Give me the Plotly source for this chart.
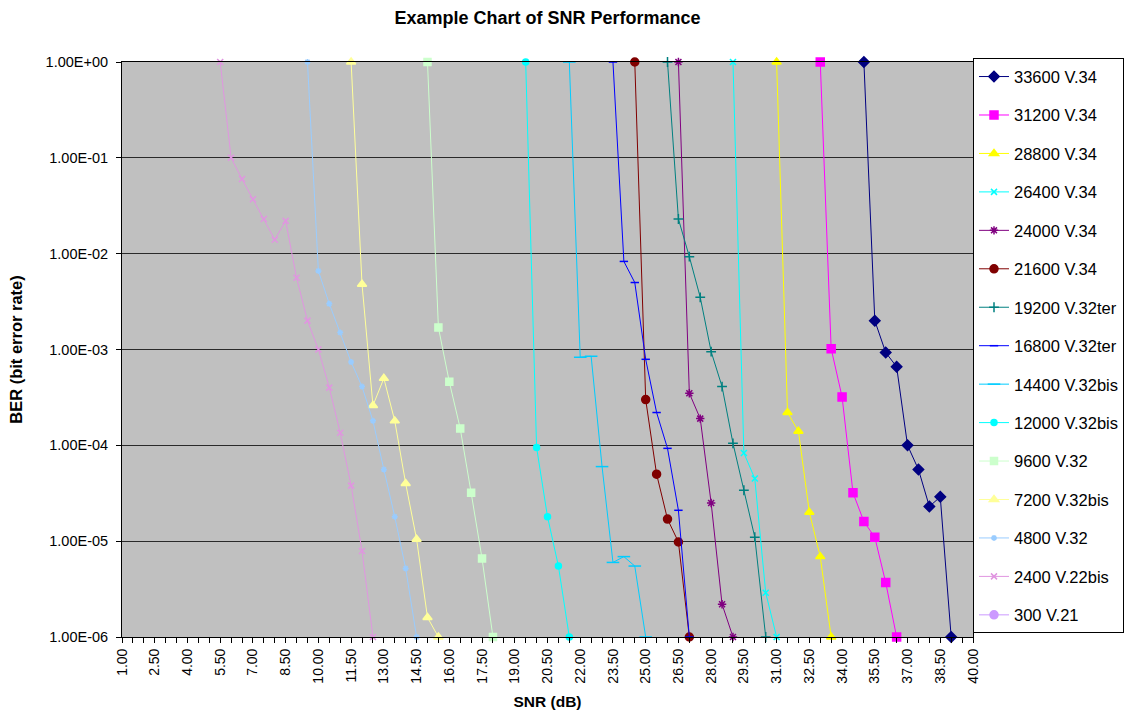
import plotly.graph_objects as go

# ---------------- data ----------------
series_names = ["33600 V.34", "31200 V.34", "28800 V.34", "26400 V.34", "24000 V.34",
                "21600 V.34", "19200 V.32ter", "16800 V.32ter", "14400 V.32bis",
                "12000 V.32bis", "9600 V.32", "7200 V.32bis", "4800 V.32",
                "2400 V.22bis", "300 V.21"]

snr_33600 = [35.0, 35.5, 36.0, 36.5, 37.0, 37.5, 38.0, 38.5, 39.0]
ber_33600 = [1.0, 2.0e-3, 9.3e-4, 6.6e-4, 1.0e-4, 5.6e-5, 2.3e-5, 2.9e-5, 1.0e-6]

snr_31200 = [33.0, 33.5, 34.0, 34.5, 35.0, 35.5, 36.0, 36.5]
ber_31200 = [1.0, 1.02e-3, 3.2e-4, 3.2e-5, 1.6e-5, 1.1e-5, 3.7e-6, 1.0e-6]

snr_28800 = [31.0, 31.5, 32.0, 32.5, 33.0, 33.5]
ber_28800 = [1.0, 2.2e-4, 1.4e-4, 2.0e-5, 6.9e-6, 1.0e-6]

snr_26400 = [29.0, 29.5, 30.0, 30.5, 31.0]
ber_26400 = [1.0, 8.3e-5, 4.5e-5, 2.9e-6, 1.0e-6]

snr_24000 = [26.5, 27.0, 27.5, 28.0, 28.5, 29.0]
ber_24000 = [1.0, 3.5e-4, 1.9e-4, 2.5e-5, 2.2e-6, 1.0e-6]

snr_21600 = [24.5, 25.0, 25.5, 26.0, 26.5, 27.0]
ber_21600 = [1.0, 3.0e-4, 5.0e-5, 1.7e-5, 9.8e-6, 1.0e-6]

snr_19200 = [26.0, 26.5, 27.0, 27.5, 28.0, 28.5, 29.0, 29.5, 30.0, 30.5]
ber_19200 = [1.0, 2.3e-2, 9.3e-3, 3.5e-3, 9.5e-4, 4.1e-4, 1.05e-4, 3.4e-5, 1.1e-5, 1.0e-6]

snr_16800 = [23.5, 24.0, 24.5, 25.0, 25.5, 26.0, 26.5, 27.0]
ber_16800 = [1.0, 8.3e-3, 5.0e-3, 7.9e-4, 2.2e-4, 9.3e-5, 2.1e-5, 1.0e-6]

snr_14400 = [21.5, 22.0, 22.5, 23.0, 23.5, 24.0, 24.5, 25.0]
ber_14400 = [1.0, 8.3e-4, 8.5e-4, 6.0e-5, 6.0e-6, 6.9e-6, 5.5e-6, 1.0e-6]

snr_12000 = [19.5, 20.0, 20.5, 21.0, 21.5]
ber_12000 = [1.0, 9.5e-5, 1.8e-5, 5.5e-6, 1.0e-6]

snr_9600 = [15.0, 15.5, 16.0, 16.5, 17.0, 17.5, 18.0]
ber_9600 = [1.0, 1.7e-3, 4.6e-4, 1.5e-4, 3.2e-5, 6.6e-6, 1.0e-6]

snr_7200 = [11.5, 12.0, 12.5, 13.0, 13.5, 14.0, 14.5, 15.0, 15.5]
ber_7200 = [1.0, 4.8e-3, 2.6e-4, 5.0e-4, 1.8e-4, 4.0e-5, 1.05e-5, 1.6e-6, 1.0e-6]

snr_4800 = [9.5, 10.0, 10.5, 11.0, 11.5, 12.0, 12.5, 13.0, 13.5, 14.0, 14.5]
ber_4800 = [1.0, 6.6e-3, 3.0e-3, 1.5e-3, 7.4e-4, 4.1e-4, 1.8e-4, 5.6e-5, 1.8e-5, 5.2e-6, 1.0e-6]

snr_2400 = [5.5, 6.0, 6.5, 7.0, 7.5, 8.0, 8.5, 9.0, 9.5, 10.0, 10.5, 11.0, 11.5, 12.0, 12.5]
ber_2400 = [1.0, 1.0e-1, 6.0e-2, 3.7e-2, 2.3e-2, 1.4e-2, 2.2e-2, 5.6e-3, 2.0e-3, 1.0e-3,
            4.0e-4, 1.35e-4, 3.8e-5, 7.9e-6, 1.0e-6]

# 300 V.21 appears only in the legend (no visible points in the plot)
snr_300 = [None]
ber_300 = [None]

x_tick_labels = ["1.00", "2.50", "4.00", "5.50", "7.00", "8.50", "10.00", "11.50", "13.00",
                 "14.50", "16.00", "17.50", "19.00", "20.50", "22.00", "23.50", "25.00",
                 "26.50", "28.00", "29.50", "31.00", "32.50", "34.00", "35.50", "37.00",
                 "38.50", "40.00"]
y_tick_labels = ["1.00E+00", "1.00E-01", "1.00E-02", "1.00E-03", "1.00E-04", "1.00E-05", "1.00E-06"]
y_tick_values = [1.0, 1e-1, 1e-2, 1e-3, 1e-4, 1e-5, 1e-6]

# ---------------- styling ----------------
snr_all = [snr_33600, snr_31200, snr_28800, snr_26400, snr_24000, snr_21600, snr_19200,
           snr_16800, snr_14400, snr_12000, snr_9600, snr_7200, snr_4800, snr_2400, snr_300]
ber_all = [ber_33600, ber_31200, ber_28800, ber_26400, ber_24000, ber_21600, ber_19200,
           ber_16800, ber_14400, ber_12000, ber_9600, ber_7200, ber_4800, ber_2400, ber_300]
colors = ["#000080", "#FF00FF", "#FFFF00", "#00FFFF", "#800080", "#800000", "#008080",
          "#0000FF", "#00CCFF", "#00FFFF", "#CCFFCC", "#FFFF99", "#99CCFF", "#E095E0", "#CC99FF"]
symbols = ["diamond", "square", "triangle-up", "x-thin-open", "asterisk-open", "circle",
           "cross-thin-open", "line-ew-open", "line-ew-open", "circle", "square",
           "triangle-up", "asterisk-open", "x-thin-open", "circle"]
sizes = [8, 8, 8, 6, 7, 8, 7, 6, 9, 6, 7, 8, 5, 6, 8]

FONT = "Liberation Sans, Arial, sans-serif"

fig = go.Figure()
for i, name in enumerate(series_names):
    fig.add_trace(go.Scatter(
        x=snr_all[i], y=ber_all[i], name=name, mode="lines+markers",
        line=dict(color=colors[i], width=1),
        marker=dict(symbol=symbols[i], size=sizes[i], color=colors[i],
                    line=dict(color=colors[i], width=1.5)),
        cliponaxis=False, legendgroup=name, showlegend=True,
    ))

fig.update_layout(
    width=1127, height=719,
    margin=dict(l=122, r=154, t=62, b=82, autoexpand=False),
    paper_bgcolor="white", plot_bgcolor="#C0C0C0",
    font=dict(family=FONT, size=14, color="black"),
    title=dict(text="<b>Example Chart of SNR Performance</b>", x=0.5, xref="paper",
               xanchor="center", y=1 - 18 / 719, yanchor="middle",
               font=dict(family=FONT, size=18, color="black")),
    showlegend=True,
    legend=dict(x=1.0, xanchor="left", y=1.0064, yanchor="top",
                bgcolor="white", bordercolor="black", borderwidth=1,
                font=dict(family=FONT, size=16.5, color="black"),
                traceorder="grouped", tracegroupgap=14, maxheight=700),
)

fig.update_xaxes(
    range=[1, 40], tickmode="array",
    tickvals=[float(t) for t in x_tick_labels], ticktext=x_tick_labels,
    tickangle=-90, ticks="outside", ticklen=5, tickcolor="black",
    minor=dict(dtick=0.5, tick0=1, ticks="outside", ticklen=5, tickcolor="black", showgrid=False),
    showgrid=False, zeroline=False, showline=True, linecolor="black", linewidth=1, mirror=True,
    tickfont=dict(family=FONT, size=14), automargin=False,
    title=dict(text="<b>SNR (dB)</b>", font=dict(family=FONT, size=15.5), standoff=13),
)
fig.update_yaxes(
    type="log", range=[-6, 0], tickmode="array",
    tickvals=y_tick_values, ticktext=y_tick_labels,
    ticks="outside", ticklen=5, tickcolor="black", ticklabelstandoff=5,
    showgrid=True, gridcolor="#2a2a2a", gridwidth=1,
    zeroline=False, showline=True, linecolor="black", linewidth=1, mirror=True,
    tickfont=dict(family=FONT, size=14.5), automargin=False,
    title=dict(text="<b>BER (bit error rate)</b>", font=dict(family=FONT, size=16.5), standoff=18),
)

fig.write_html("out.html", config={"displayModeBar": False},
               post_script="document.body.style.margin='0';")
